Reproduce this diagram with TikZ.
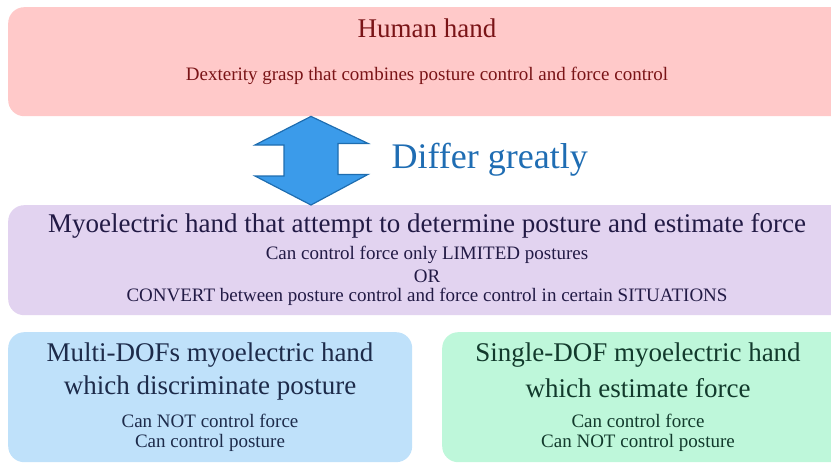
\documentclass[tikz,border=0pt]{standalone}
\usepackage{fontspec}
\setmainfont{Liberation Serif}
\definecolor{humanfill}{RGB}{255,201,201}
\definecolor{humantext}{RGB}{122,20,23}
\definecolor{myofill}{RGB}{226,211,240}
\definecolor{myotext}{RGB}{34,26,69}
\definecolor{multifill}{RGB}{191,225,250}
\definecolor{multitext}{RGB}{29,43,74}
\definecolor{singlefill}{RGB}{190,247,218}
\definecolor{singletext}{RGB}{18,58,44}
\definecolor{arrowfill}{RGB}{59,155,234}
\definecolor{arrowline}{RGB}{30,109,176}
\definecolor{differtext}{RGB}{31,109,179}
\begin{document}
\begin{tikzpicture}[x=1pt,y=1pt,yscale=-1,
    panel/.style={rectangle,rounded corners=16pt,inner sep=0pt,anchor=north west},
    title/.style={font=\fontsize{27}{30}\selectfont},
    detail/.style={font=\fontsize{19}{21}\selectfont}]
    \useasboundingbox (0,0) rectangle (831,466);

    %Shape: Panels
    \node [panel,fill=humanfill,minimum width=840,minimum height=109] (human) at (8,7) {};
    \node [panel,fill=myofill,minimum width=840,minimum height=110] (myo) at (8,205) {};
    \node [panel,fill=multifill,minimum width=404,minimum height=130] (multi) at (8,332) {};
    \node [panel,fill=singlefill,minimum width=420,minimum height=130] (single) at (442,332) {};

    %Shape: Double arrow between human and myo
    \coordinate (tipU) at (human.south -| 311,0);
    \coordinate (tipD) at (myo.north -| 311,0);
    \draw [fill=arrowfill,draw=arrowline,line width=1.2pt,line join=miter]
        (tipU) -- ++(57,27) -- ++(-30,0) -- ++(0,31) -- ++(30,0)
        -- (tipD) -- ++(-56,-29) -- ++(29,0) -- ++(0,-31) -- ++(-29,0) -- cycle ;

    % Text Node
    \node [title,text=humantext] (humanT) at (427,28) {Human hand};
    % Text Node
    \node [detail,text=humantext] (humanD) at (427,76) {Dexterity grasp that combines posture control and force control};
    % Text Node
    \node [font=\fontsize{36}{40}\selectfont,text=differtext,anchor=west] (differ) at (388,160) {Differ greatly};
    % Text Node
    \node [title,text=myotext] (myoT) at (427,226) {Myoelectric hand that attempt to determine posture and estimate force};
    % Text Node
    \node [detail,text=myotext] (myoA) at (427,255) {Can control force only LIMITED postures};
    % Text Node
    \node [detail,text=myotext] (myoB) at (427,276) {OR};
    % Text Node
    \node [detail,text=myotext] (myoC) at (427,297) {CONVERT between posture control and force control in certain SITUATIONS};
    % Text Node
    \node [title,text=multitext] (multiT) at (210,355) {Multi-DOFs myoelectric hand};
    % Text Node
    \node [title,text=multitext] (multiU) at (210,388) {which discriminate posture};
    % Text Node
    \node [detail,text=multitext] (multiA) at (210,421) {Can NOT control force};
    % Text Node
    \node [detail,text=multitext] (multiB) at (210,443) {Can control posture};
    % Text Node
    \node [title,text=singletext] (singleT) at (638,355) {Single-DOF myoelectric hand};
    % Text Node
    \node [title,text=singletext] (singleU) at (638,388) {which estimate force};
    % Text Node
    \node [detail,text=singletext] (singleA) at (638,421) {Can control force};
    % Text Node
    \node [detail,text=singletext] (singleB) at (638,443) {Can NOT control posture};

\end{tikzpicture}
\end{document}
